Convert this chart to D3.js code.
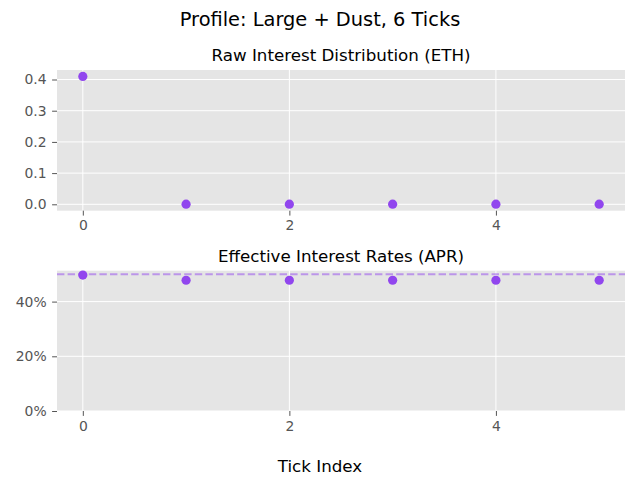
<!DOCTYPE html>
<html><head><meta charset="utf-8">
<script src="https://cdn.jsdelivr.net/npm/d3@7"></script>
<style>body{margin:0;background:#fff}svg{display:block}text{font-family:"DejaVu Sans",sans-serif}</style>
</head><body><svg id="c" width="640" height="480"></svg>
<script>
const ticks = [0, 1, 2, 3, 4, 5];
const rawInterest = [0.41, 0.0003, 0.0003, 0.0003, 0.0003, 0.0003];
const aprValues = [0.497, 0.478, 0.478, 0.478, 0.478, 0.478];
const targetApr = 0.5;
const xTicks = [0, 2, 4];
const rawYTicks = [0, 0.1, 0.2, 0.3, 0.4];
const aprYTicks = [0, 0.2, 0.4];

const svg = d3.select("#c");
const W = 640;
const left = 57, right = 625;
const purple = "#9146ee";
const tickCol = "#555";

const x = d3.scaleLinear().domain([-0.25, 5.25]).range([left, right]);

function panel(top, bottom, yDomain, yTicks, fmt, values, title, target) {
  const y = d3.scaleLinear().domain(yDomain).range([bottom, top]);
  const g = svg.append("g");
  g.append("rect").attr("x", left).attr("y", top).attr("width", right - left).attr("height", bottom - top).attr("fill", "#e5e5e5");
  g.selectAll(".gx").data(xTicks).enter().append("line")
    .attr("x1", d => x(d)).attr("x2", d => x(d)).attr("y1", top).attr("y2", bottom)
    .attr("stroke", "#fff").attr("stroke-width", 1);
  g.selectAll(".gy").data(yTicks).enter().append("line")
    .attr("x1", left).attr("x2", right).attr("y1", d => y(d)).attr("y2", d => y(d))
    .attr("stroke", "#fff").attr("stroke-width", 1);
  const xa = g.append("g").attr("transform", `translate(0,${bottom})`)
    .call(d3.axisBottom(x).tickValues(xTicks).tickFormat(d3.format("d")).tickSize(4.9).tickPadding(5));
  const ya = g.append("g").attr("transform", `translate(${left},0)`)
    .call(d3.axisLeft(y).tickValues(yTicks).tickFormat(fmt).tickSize(4.9).tickPadding(5.5));
  [xa, ya].forEach(a => {
    a.select(".domain").remove();
    a.selectAll("line").attr("stroke", tickCol);
    a.selectAll("text").attr("fill", tickCol).style("font-size", "13.9px").style("font-family", "DejaVu Sans");
  });
  if (target !== undefined) {
    g.append("line").attr("x1", left).attr("x2", right).attr("y1", y(target)).attr("y2", y(target))
      .attr("stroke", purple).attr("stroke-opacity", 0.5).attr("stroke-width", 2).attr("stroke-dasharray", "7.4,3.2");
  }
  g.selectAll(".pt").data(values).enter().append("circle")
    .attr("cx", (d, i) => x(ticks[i])).attr("cy", d => y(d)).attr("r", 4.6).attr("fill", purple);
  svg.append("text").attr("x", (left + right) / 2).attr("y", top - 9).attr("text-anchor", "middle")
    .style("font-size", "16.7px").attr("fill", "#000").text(title);
}

panel(70, 210.7, [-0.0205, 0.4305], rawYTicks, d3.format(".1f"), rawInterest, "Raw Interest Distribution (ETH)");
panel(270.7, 411, [0, 0.513], aprYTicks, d3.format(".0%"), aprValues, "Effective Interest Rates (APR)", targetApr);

svg.append("text").attr("x", W / 2).attr("y", 25.5).attr("text-anchor", "middle")
  .style("font-size", "19.4px").attr("fill", "#000").text("Profile: Large + Dust, 6 Ticks");
svg.append("text").attr("x", W / 2).attr("y", 472).attr("text-anchor", "middle")
  .style("font-size", "16.7px").attr("fill", "#000").text("Tick Index");
</script></body></html>
